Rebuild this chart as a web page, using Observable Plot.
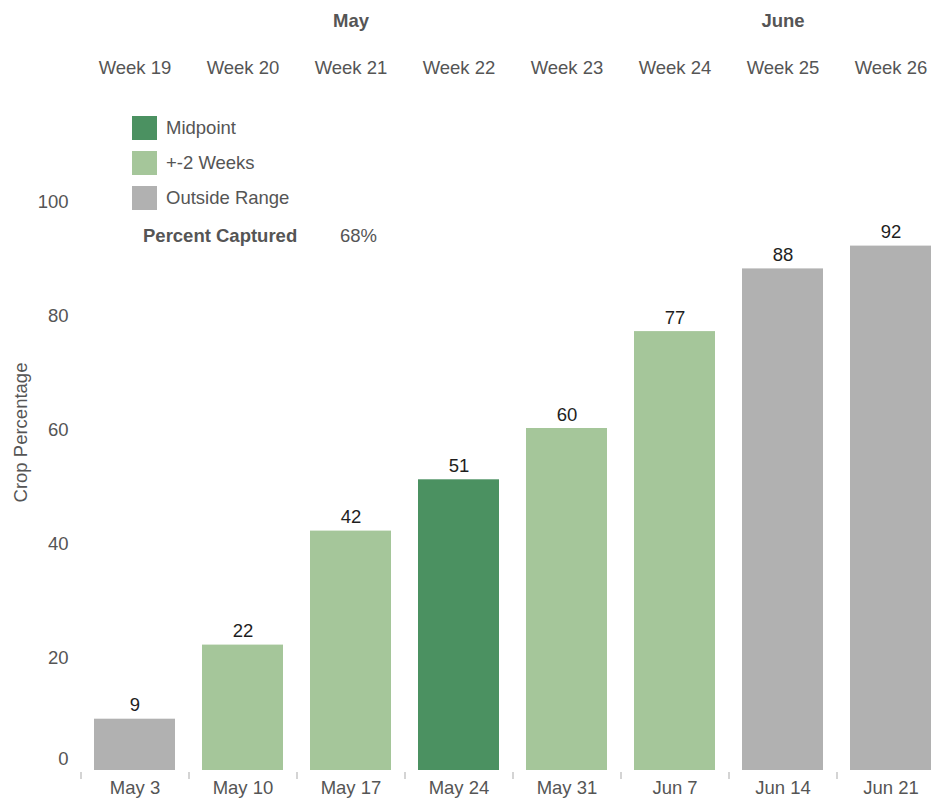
<!DOCTYPE html>
<html>
<head>
<meta charset="utf-8">
<script src="https://cdn.jsdelivr.net/npm/d3@7"></script>
<script src="https://cdn.jsdelivr.net/npm/@observablehq/plot@0.6"></script>
<style>
  html, body { margin: 0; padding: 0; background: #fff; }
  #wrap { position: relative; width: 940px; height: 804px; font-family: "Liberation Sans", Arial, sans-serif; }
  #legend { position: absolute; left: 132px; top: 116px; color: #555; font-size: 18.5px; }
  .item { display: flex; align-items: center; height: 24px; margin-bottom: 11px; }
  .sw { width: 25px; height: 24px; margin-right: 9px; }
  #captured { position: absolute; left: 143px; top: 225px; color: #555; font-size: 18.5px; white-space: nowrap; }
  #captured b { display: inline-block; width: 197px; }
</style>
</head>
<body>
<div id="wrap">
  <div id="chart"></div>
  <div id="legend"></div>
  <div id="captured"></div>
</div>
<script>
const dates = ["May 3","May 10","May 17","May 24","May 31","Jun 7","Jun 14","Jun 21"];
const weeks = ["Week 19","Week 20","Week 21","Week 22","Week 23","Week 24","Week 25","Week 26"];
const values = [9,22,42,51,60,77,88,92];
const ranges = ["Outside Range","+-2 Weeks","+-2 Weeks","Midpoint","+-2 Weeks","+-2 Weeks","Outside Range","Outside Range"];
const categories = ["Midpoint","+-2 Weeks","Outside Range"];
const colors = ["#4b9161","#a5c69a","#b1b1b1"];
const months = ["May","June"];
const monthCenters = ["May 17","Jun 14"];
const yTicks = [20,40,60,80,100];
const yZero = [0];
const yTitle = "Crop Percentage";
const percentLabel = "Percent Captured";
const percentValue = "68%";

const data = dates.map((d, i) => ({date: d, week: weeks[i], value: values[i], range: ranges[i]}));
const monthData = months.map((m, i) => ({month: m, center: monthCenters[i]}));

const step = 108;
const font = "'Liberation Sans', Arial, sans-serif";
const grey = "#555";

const chart = Plot.plot({
  width: 940,
  height: 804,
  marginTop: 90,
  marginBottom: 34,
  marginLeft: 80,
  marginRight: 0,
  style: {fontFamily: font, fontSize: "18.5px", color: grey, background: "#fff"},
  x: {domain: dates, range: [80, 944], paddingInner: 0.25, paddingOuter: 0.125},
  y: {domain: [0, 100], range: [770, 200]},
  color: {domain: categories, range: colors},
  marks: [
    Plot.barY(data, {x: "date", y: "value", fill: "range"}),
    Plot.text(data, {x: "date", y: "value", text: d => String(d.value), lineAnchor: "bottom", dy: -8, fill: "#1e1e1e", fontSize: 18.5}),
    Plot.axisX({anchor: "bottom", tickSize: 0, tickPadding: 10, fill: grey, fontSize: 18.5, label: null}),
    Plot.axisX({anchor: "bottom", tickSize: 7, text: null, dx: -step / 2, dy: 2, stroke: "#d4d4d4", strokeWidth: 2, label: null}),
    Plot.axisX({anchor: "top", tickSize: 0, tickPadding: 17, tickFormat: d => weeks[dates.indexOf(d)], fill: grey, fontSize: 18.5, label: null}),
    Plot.text(monthData, {x: "center", text: "month", frameAnchor: "top", dy: -77, fontWeight: "bold", fill: grey, fontSize: 18.5}),
    Plot.axisY({ticks: yTicks, tickSize: 0, tickPadding: 12, dy: 2, fill: grey, fontSize: 18.5, label: null}),
    Plot.axisY({ticks: yZero, tickSize: 0, tickPadding: 12, fill: grey, fontSize: 18.5, dy: -11, label: null}),
    Plot.text([yTitle], {text: d => d, frameAnchor: "left", textAnchor: "middle", rotate: -90, dx: -59, dy: 2, fill: grey, fontSize: 18.5})
  ]
});
document.getElementById("chart").appendChild(chart);

const legend = document.getElementById("legend");
categories.forEach((c, i) => {
  const row = document.createElement("div");
  row.className = "item";
  const sw = document.createElement("div");
  sw.className = "sw";
  sw.style.background = colors[i];
  const t = document.createElement("span");
  t.textContent = c;
  row.appendChild(sw);
  row.appendChild(t);
  legend.appendChild(row);
});
const cap = document.getElementById("captured");
const b = document.createElement("b");
b.textContent = percentLabel;
const v = document.createElement("span");
v.textContent = percentValue;
cap.appendChild(b);
cap.appendChild(v);
</script>
</body>
</html>
